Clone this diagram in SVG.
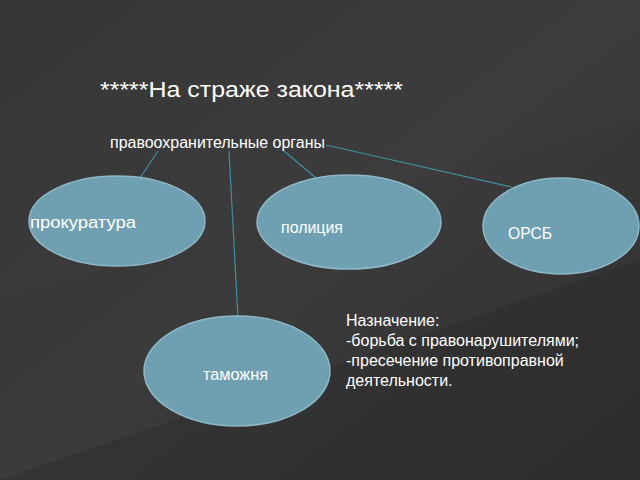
<svg xmlns="http://www.w3.org/2000/svg" width="640" height="480" viewBox="0 0 640 480">
<style>
.n{fill:#6fa0b2;stroke:#8fb8c6;stroke-width:1.5}
.t{font-family:"Liberation Sans",Arial,sans-serif;fill:#fff;font-size:16px}
.c{stroke:#3e8fa3;stroke-width:1.2;fill:none}
</style>
<defs>
<linearGradient id="bg" x1="0" y1="0" x2="1" y2="1">
<stop offset="0" stop-color="#333"/><stop offset="0.5" stop-color="#3b3b3b"/><stop offset="1" stop-color="#2f2f2f"/>
</linearGradient>
</defs>
<rect width="640" height="480" fill="url(#bg)"/>
<polygon points="0,0 640,0 640,120 0,300" fill="#404040" opacity="0.35"/>
<polygon points="0,480 640,260 640,480" fill="#2a2a2a" opacity="0.4"/>
<text class="t" x="100" y="97" style="font-size:22px" textLength="303" lengthAdjust="spacingAndGlyphs">*****На страже закона*****</text>
<g id="root"><text class="t" x="110" y="148" textLength="215" lengthAdjust="spacingAndGlyphs">правоохранительные органы</text></g>
<g id="connectors">
<line class="c" x1="158" y1="151" x2="138" y2="181"/>
<line class="c" x1="229" y1="151" x2="238" y2="318"/>
<line class="c" x1="284" y1="151" x2="316" y2="178"/>
<line class="c" x1="326" y1="145" x2="512" y2="187"/>
</g>
<g id="prokuratura"><ellipse class="n" cx="117" cy="221" rx="88" ry="45"/><text class="t" x="30" y="228" textLength="106" lengthAdjust="spacingAndGlyphs">прокуратура</text></g>
<g id="policiya"><ellipse class="n" cx="349" cy="222" rx="92" ry="47"/><text class="t" x="281" y="233" textLength="62" lengthAdjust="spacingAndGlyphs">полиция</text></g>
<g id="orsb"><ellipse class="n" cx="561" cy="226" rx="78" ry="48"/><text class="t" x="508" y="239" textLength="44" lengthAdjust="spacingAndGlyphs">ОРСБ</text></g>
<g id="tamozhnya"><ellipse class="n" cx="237" cy="371" rx="93" ry="55"/><text class="t" x="203" y="380" textLength="65" lengthAdjust="spacingAndGlyphs">таможня</text></g>
<g id="note"><text class="t" x="346" y="326">Назначение:<tspan x="346" dy="20">-борьба с правонарушителями;</tspan><tspan x="346" dy="20">-пресечение противоправной</tspan><tspan x="346" dy="20">деятельности.</tspan></text></g>
</svg>
